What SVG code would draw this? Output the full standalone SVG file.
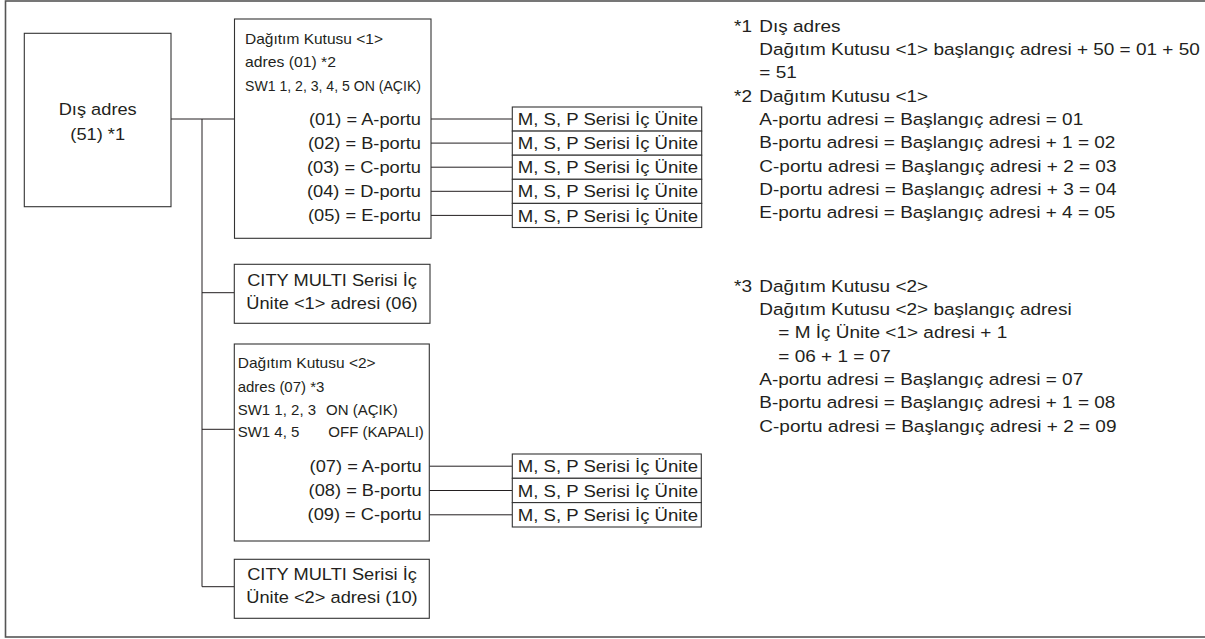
<svg xmlns="http://www.w3.org/2000/svg" width="1205" height="639" viewBox="0 0 1205 639">
<style>
.frame{fill:none;stroke:#555;stroke-width:1.6}
.box{fill:#fff;stroke:#333;stroke-width:1.1}
.ln{fill:none;stroke:#231f20;stroke-width:1}
.t{font-family:"Liberation Sans",Arial,sans-serif;font-size:16.3px;fill:#231f20}
.s{font-family:"Liberation Sans",Arial,sans-serif;font-size:15px;fill:#231f20}
.m{text-anchor:middle}
.e{text-anchor:end}
</style>
<rect class="frame" x="5.5" y="1" width="1240" height="636"/>
<g id="connectors">
<path class="ln" d="M171,119H234.5M202,119V586.7H234.3M202,292.7H234.3M202,429.3H234.3"/>
<path class="ln" d="M431,119H512.3M431,143.1H512.3M431,167.2H512.3M431,191.3H512.3M431,215.4H512.3"/>
<path class="ln" d="M429.3,466.2H512.3M429.3,490.5H512.3M429.3,514.8H512.3"/>
</g>
<g id="dis-adres">
<rect class="box" x="24.3" y="33.3" width="146.7" height="173.4"/>
<text class="t m" transform="matrix(1.12 0 0 1 97.7 115)">Dış adres</text>
<text class="t m" transform="matrix(1.12 0 0 1 97.7 140)">(51) *1</text>
</g>
<g id="dagitim-1">
<rect class="box" x="234.5" y="19" width="196.5" height="219.3"/>
<text class="s" x="245" y="44" textLength="138" lengthAdjust="spacingAndGlyphs">Dağıtım Kutusu &lt;1&gt;</text>
<text class="s" x="245" y="67.3" textLength="91" lengthAdjust="spacingAndGlyphs">adres (01) *2</text>
<text class="s" x="245" y="90.7" textLength="176" lengthAdjust="spacingAndGlyphs">SW1 1, 2, 3, 4, 5 ON (AÇIK)</text>
<text class="t e" transform="matrix(1.12 0 0 1 421 125)">(01) = A-portu</text>
<text class="t e" transform="matrix(1.12 0 0 1 421 149.1)">(02) = B-portu</text>
<text class="t e" transform="matrix(1.12 0 0 1 421 173.2)">(03) = C-portu</text>
<text class="t e" transform="matrix(1.12 0 0 1 421 197.3)">(04) = D-portu</text>
<text class="t e" transform="matrix(1.12 0 0 1 421 221.4)">(05) = E-portu</text>
</g>
<g id="units-1">
<rect class="box" x="512.3" y="107" width="189.4" height="24.1"/>
<rect class="box" x="512.3" y="131.1" width="189.4" height="24.1"/>
<rect class="box" x="512.3" y="155.2" width="189.4" height="24.1"/>
<rect class="box" x="512.3" y="179.3" width="189.4" height="24.1"/>
<rect class="box" x="512.3" y="203.4" width="189.4" height="24.1"/>
<text class="t" transform="matrix(1.14 0 0 1 517.7 125.1)">M, S, P Serisi İç Ünite</text>
<text class="t" transform="matrix(1.14 0 0 1 517.7 149.2)">M, S, P Serisi İç Ünite</text>
<text class="t" transform="matrix(1.14 0 0 1 517.7 173.3)">M, S, P Serisi İç Ünite</text>
<text class="t" transform="matrix(1.14 0 0 1 517.7 197.4)">M, S, P Serisi İç Ünite</text>
<text class="t" transform="matrix(1.14 0 0 1 517.7 221.5)">M, S, P Serisi İç Ünite</text>
</g>
<g id="city-1">
<rect class="box" x="234.3" y="264.3" width="195.7" height="59"/>
<text class="t m" transform="matrix(1.12 0 0 1 332 286)">CITY MULTI Serisi İç</text>
<text class="t m" transform="matrix(1.12 0 0 1 332 308.5)">Ünite &lt;1&gt; adresi (06)</text>
</g>
<g id="dagitim-2">
<rect class="box" x="234.3" y="344" width="195" height="197"/>
<text class="s" x="237.7" y="368.3" textLength="138" lengthAdjust="spacingAndGlyphs">Dağıtım Kutusu &lt;2&gt;</text>
<text class="s" x="237.7" y="391.7">adres (07) *3</text>
<text class="s" x="237.7" y="415">SW1 1, 2, 3</text>
<text class="s" x="326" y="415">ON (AÇIK)</text>
<text class="s" x="237.7" y="436.7">SW1 4, 5</text>
<text class="s" x="328.3" y="436.7">OFF (KAPALI)</text>
<text class="t e" transform="matrix(1.12 0 0 1 421.7 471.5)">(07) = A-portu</text>
<text class="t e" transform="matrix(1.12 0 0 1 421.7 495.8)">(08) = B-portu</text>
<text class="t e" transform="matrix(1.12 0 0 1 421.7 520.1)">(09) = C-portu</text>
</g>
<g id="units-2">
<rect class="box" x="512.3" y="454" width="189" height="24.3"/>
<rect class="box" x="512.3" y="478.3" width="189" height="24.3"/>
<rect class="box" x="512.3" y="502.6" width="189" height="24.4"/>
<text class="t" transform="matrix(1.14 0 0 1 517.7 472.3)">M, S, P Serisi İç Ünite</text>
<text class="t" transform="matrix(1.14 0 0 1 517.7 496.6)">M, S, P Serisi İç Ünite</text>
<text class="t" transform="matrix(1.14 0 0 1 517.7 520.9)">M, S, P Serisi İç Ünite</text>
</g>
<g id="city-2">
<rect class="box" x="234.3" y="559.3" width="195" height="59"/>
<text class="t m" transform="matrix(1.12 0 0 1 332 580)">CITY MULTI Serisi İç</text>
<text class="t m" transform="matrix(1.12 0 0 1 332 602.5)">Ünite &lt;2&gt; adresi (10)</text>
</g>
<g id="notes">
<text class="t" transform="matrix(1.165 0 0 1 734 31.7)">*1</text>
<text class="t" transform="matrix(1.165 0 0 1 759.3 31.7)">Dış adres</text>
<text class="t" transform="matrix(1.165 0 0 1 759.3 55)">Dağıtım Kutusu &lt;1&gt; başlangıç adresi + 50 = 01 + 50</text>
<text class="t" transform="matrix(1.165 0 0 1 759.3 78.3)">= 51</text>
<text class="t" transform="matrix(1.165 0 0 1 734 101.7)">*2</text>
<text class="t" transform="matrix(1.165 0 0 1 759.3 101.7)">Dağıtım Kutusu &lt;1&gt;</text>
<text class="t" transform="matrix(1.165 0 0 1 759.3 125)">A-portu adresi = Başlangıç adresi = 01</text>
<text class="t" transform="matrix(1.165 0 0 1 759.3 148.3)">B-portu adresi = Başlangıç adresi + 1 = 02</text>
<text class="t" transform="matrix(1.165 0 0 1 759.3 171.7)">C-portu adresi = Başlangıç adresi + 2 = 03</text>
<text class="t" transform="matrix(1.165 0 0 1 759.3 195)">D-portu adresi = Başlangıç adresi + 3 = 04</text>
<text class="t" transform="matrix(1.165 0 0 1 759.3 218.3)">E-portu adresi = Başlangıç adresi + 4 = 05</text>
<text class="t" transform="matrix(1.165 0 0 1 734 291.7)">*3</text>
<text class="t" transform="matrix(1.165 0 0 1 759.3 291.7)">Dağıtım Kutusu &lt;2&gt;</text>
<text class="t" transform="matrix(1.165 0 0 1 759.3 315)">Dağıtım Kutusu &lt;2&gt; başlangıç adresi</text>
<text class="t" transform="matrix(1.165 0 0 1 778.3 338.3)">= M İç Ünite &lt;1&gt; adresi + 1</text>
<text class="t" transform="matrix(1.165 0 0 1 778.3 361.7)">= 06 + 1 = 07</text>
<text class="t" transform="matrix(1.165 0 0 1 759.3 385)">A-portu adresi = Başlangıç adresi = 07</text>
<text class="t" transform="matrix(1.165 0 0 1 759.3 408.3)">B-portu adresi = Başlangıç adresi + 1 = 08</text>
<text class="t" transform="matrix(1.165 0 0 1 759.3 431.7)">C-portu adresi = Başlangıç adresi + 2 = 09</text>
</g>
</svg>
